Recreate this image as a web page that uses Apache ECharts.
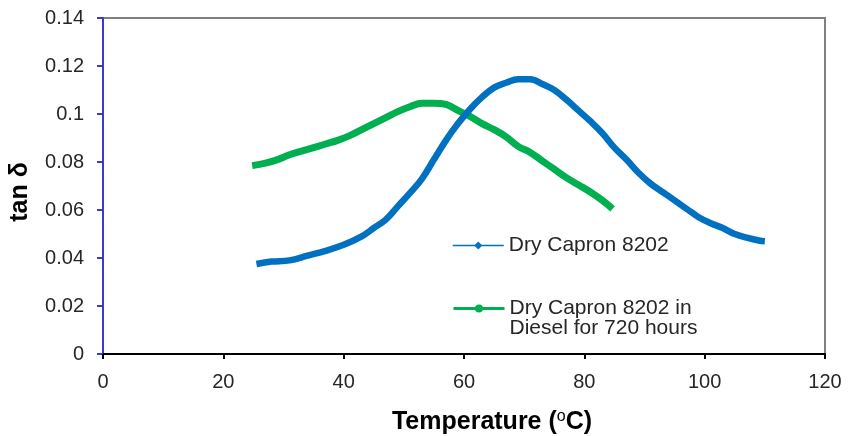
<!DOCTYPE html>
<html>
<head>
<meta charset="utf-8">
<script src="https://cdn.jsdelivr.net/npm/echarts@6/dist/echarts.min.js"></script>
<style>html,body{margin:0;padding:0;background:#fff}#c{width:849px;height:436px}</style>
</head>
<body>
<div id="c"></div>
<script>
const xTicks = [0, 20, 40, 60, 80, 100, 120];
const yTicks = [0, 0.02, 0.04, 0.06, 0.08, 0.1, 0.12, 0.14];
const seriesNames = ['Dry Capron 8202', 'Dry Capron 8202 in Diesel for 720 hours'];
const dryCapron = [
  [25.5,0.0375],[28,0.0385],[31,0.039],[34,0.041],[37,0.043],[40,0.0455],[43,0.049],[45,0.0525],
  [47,0.056],[49,0.0615],[51,0.067],[53,0.073],[55,0.081],[57,0.089],[59,0.096],[61,0.102],
  [63,0.107],[65,0.111],[67,0.113],[69,0.1145],[71,0.1145],[73,0.1125],[75,0.110],[77,0.106],
  [79,0.1015],[81,0.097],[83,0.092],[85,0.086],[87,0.081],[89,0.0755],[91,0.071],[93,0.0675],
  [95,0.064],[97,0.0605],[99,0.057],[101,0.0545],[103,0.0525],[105,0.050],[107,0.0485],[109,0.0473],[110,0.047]
];
const dieselCapron = [
  [24.8,0.0785],[27,0.0795],[29,0.081],[31,0.083],[33,0.0845],[35,0.086],[37,0.0875],[39,0.089],
  [41,0.091],[43,0.0935],[45,0.096],[47,0.0985],[49,0.101],[51,0.103],[53,0.1045],[55,0.1045],
  [57,0.104],[59,0.1015],[61,0.099],[63,0.096],[65,0.0935],[67,0.0905],[69,0.0865],[71,0.084],
  [73,0.0805],[75,0.077],[77,0.0735],[79,0.0705],[81,0.0675],[83,0.064],[84.7,0.0605]
];

const chart = echarts.init(document.getElementById('c'), null, {renderer: 'canvas'});
const font = 'Liberation Sans, Arial, sans-serif';
chart.setOption({
  animation: false,
  backgroundColor: '#fff',
  textStyle: {fontFamily: font},
  grid: {left: 103, right: 24, top: 18, bottom: 82, show: true, borderColor: '#808080', borderWidth: 2,
         backgroundColor: 'transparent', containLabel: false, outerBoundsMode: 'none'},
  xAxis: {
    type: 'value', min: xTicks[0], max: xTicks[xTicks.length - 1], interval: 20,
    name: '{a|Temperature (}{s|o}{a|C)}',
    nameLocation: 'middle', nameGap: 55,
    nameTextStyle: {padding: [0, 0, 0, 56], rich: {
      a: {fontSize: 25, fontWeight: 'bold', color: '#000', fontFamily: font},
      s: {fontSize: 16, fontWeight: 'normal', color: '#000', fontFamily: font, padding: [0, 0, 10, 0]}
    }},
    axisLine: {show: true, onZero: false, lineStyle: {color: '#000', width: 2}},
    axisTick: {show: true, inside: false, length: 5, lineStyle: {color: '#000', width: 2}},
    axisLabel: {fontSize: 20, color: '#262626', margin: 18, fontFamily: font},
    splitLine: {show: false}
  },
  yAxis: {
    type: 'value', min: yTicks[0], max: yTicks[yTicks.length - 1], interval: 0.02,
    name: 'tan δ', nameLocation: 'middle', nameGap: 70, nameRotate: 90,
    nameTextStyle: {fontSize: 25, fontWeight: 'bold', color: '#000', fontFamily: font, padding: [0, 12, 0, 0]},
    axisLine: {show: true, onZero: false, lineStyle: {color: '#3a3ad0', width: 2}},
    axisTick: {show: true, inside: false, length: 6, lineStyle: {color: '#3a3ad0', width: 2}},
    axisLabel: {fontSize: 20, color: '#262626', margin: 19, fontFamily: font},
    splitLine: {show: false}
  },
  legend: [
    {
      data: [{name: seriesNames[0], lineStyle: {width: 1.5}}],
      left: 452, top: 235, padding: 0, orient: 'vertical', itemWidth: 51, itemHeight: 10, itemGap: 0,
      textStyle: {fontSize: 21, color: '#262626', fontFamily: font}
    },
    {
      data: [{name: seriesNames[1], lineStyle: {width: 3}}],
      left: 452, top: 278, padding: 0, orient: 'vertical', itemWidth: 51, itemHeight: 10, itemGap: 0,
      formatter: function (n) { return ' \nDry Capron 8202 in\nDiesel for 720 hours'; },
      textStyle: {fontSize: 21, color: '#262626', fontFamily: font, lineHeight: 20}
    }
  ],
  series: [
    {
      name: seriesNames[0], type: 'line', data: dryCapron, smooth: 0.4,
      symbol: 'diamond', symbolSize: 8, showSymbol: false,
      lineStyle: {color: '#0070C0', width: 6.5}, itemStyle: {color: '#0070C0'}, z: 3
    },
    {
      name: seriesNames[1], type: 'line', data: dieselCapron, smooth: 0.4,
      symbol: 'circle', symbolSize: 8, showSymbol: false,
      lineStyle: {color: '#00B050', width: 7}, itemStyle: {color: '#00B050'}, z: 2
    }
  ]
});
</script>
</body>
</html>
